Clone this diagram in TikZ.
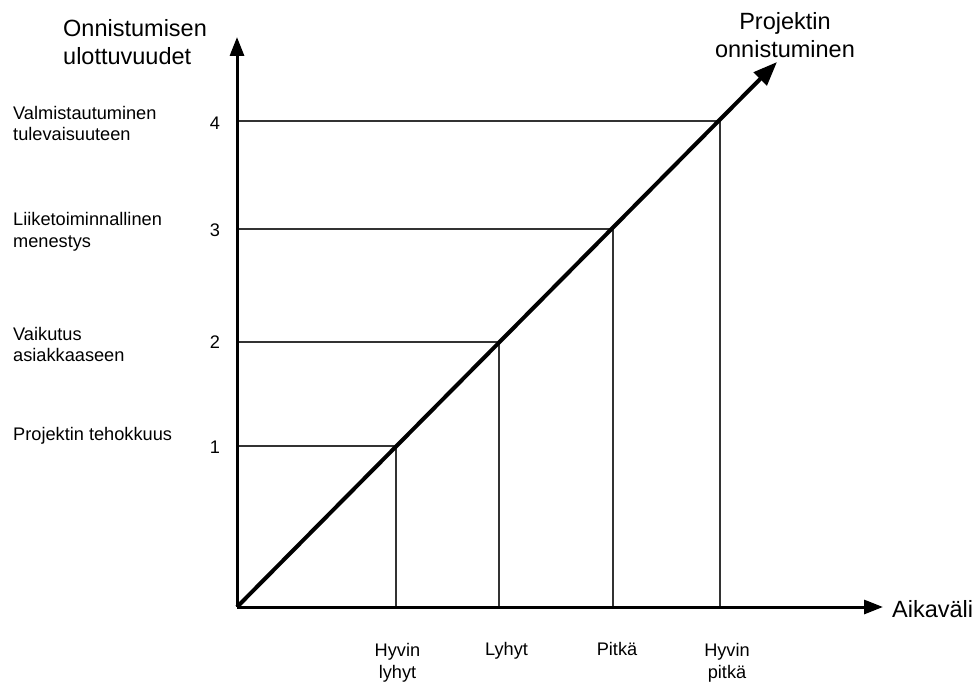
\documentclass[tikz,border=0pt]{standalone}
\usepackage{fontspec}
\setmainfont{Liberation Sans}
\usetikzlibrary{arrows.meta}
\begin{document}
\begin{tikzpicture}[x=1pt,y=-1pt,
  axis/.style={line width=3pt,-{Triangle[length=19pt,width=14pt]}},
  trend/.style={line width=4pt,-{Triangle[length=24pt,width=18pt]}},
  guide/.style={line width=1.6pt,draw=black!80},
  biglabel/.style={font=\fontsize{23.5}{28}\selectfont,inner sep=0pt},
  smalllabel/.style={font=\fontsize{18.2}{21.5}\selectfont,inner sep=0pt},
]
\useasboundingbox (0,0) rectangle (978,682);

% axes and the diagonal
\coordinate (O) at (237,607);
\coordinate (ytip) at (237,37);
\coordinate (xtip) at (883,607);
\coordinate (dtip) at (777,62);

% level marks on the vertical axis
\coordinate (y1) at (237,446);
\coordinate (y2) at (237,342);
\coordinate (y3) at (237,229);
\coordinate (y4) at (237,121);
% time marks on the horizontal axis
\coordinate (b1) at (396,607);
\coordinate (b2) at (499,607);
\coordinate (b3) at (613,607);
\coordinate (b4) at (720,607);

% guide lines: level -> diagonal -> time axis
\draw[guide] (y1) -| (b1);
\draw[guide] (y2) -| (b2);
\draw[guide] (y3) -| (b3);
\draw[guide] (y4) -| (b4);

\draw[axis] (O) -- (ytip);
\draw[axis] (O) -- (xtip);
\draw[trend] (O) -- (dtip);

% axis titles
\node[biglabel, anchor=west, align=left] (ytitle) at (63,42) {Onnistumisen\\ulottuvuudet};
\node[biglabel, anchor=west] (xtitle) at (892,609) {Aikaväli};
\node[biglabel, align=center] (dtitle) at (785,35) {Projektin\\onnistuminen};

% level numbers
\node[smalllabel] (n1) at (215,447) {1};
\node[smalllabel] (n2) at (215,342) {2};
\node[smalllabel] (n3) at (215,230) {3};
\node[smalllabel] (n4) at (215,123) {4};

% level descriptions
\node[smalllabel, anchor=west] (d1) at (13,436) {Projektin tehokkuus};
\node[smalllabel, anchor=west, align=left] (d2) at (13,344.5) {Vaikutus\\asiakkaaseen};
\node[smalllabel, anchor=west, align=left] (d3) at (13,232) {Liiketoiminnallinen\\menestys};
\node[smalllabel, anchor=west, align=left] (d4) at (13,123.5) {Valmistautuminen\\tulevaisuuteen};

% time labels
\node[smalllabel, align=center] (t1) at (397.5,663) {Hyvin\\lyhyt};
\node[smalllabel, anchor=base] (t2) at (506.5,655) {Lyhyt};
\node[smalllabel, anchor=base] (t3) at (617,655) {Pitkä};
\node[smalllabel, align=center] (t4) at (727,663) {Hyvin\\pitkä};
\end{tikzpicture}
\end{document}
